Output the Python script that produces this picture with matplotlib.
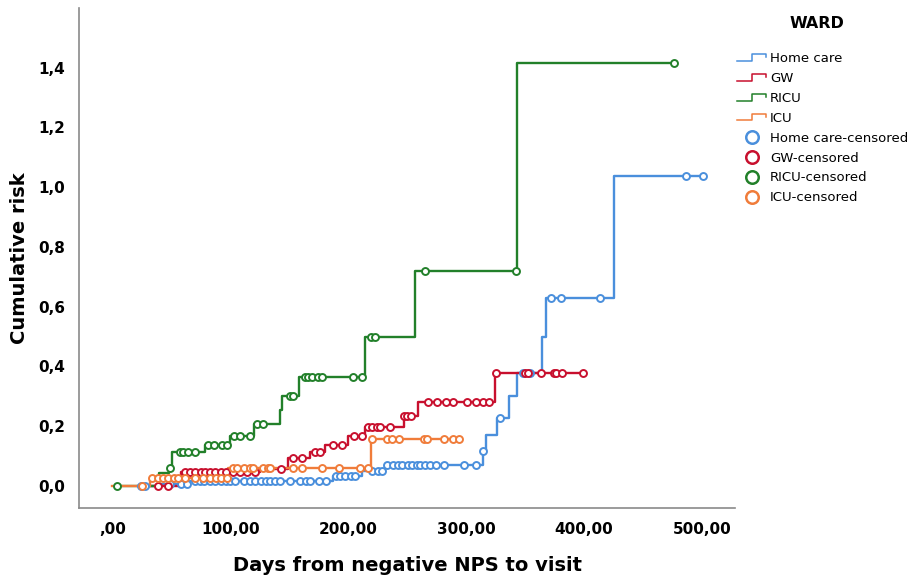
import numpy as np
import matplotlib
matplotlib.use("Agg")
import matplotlib.pyplot as plt
from matplotlib.lines import Line2D
from matplotlib.legend_handler import HandlerBase

# grupos (WARD)
groups = ["Home care", "GW", "RICU", "ICU"]
colors = ["#4a8fdc", "#c8102e", "#22802a", "#f07c3a"]

# Home care: tiempos de evento y riesgo acumulado (escalones)
home_t = [22, 41, 66, 187, 212, 231, 314, 317, 326, 336, 343, 364, 368, 425, 501]
home_r = [0.0, 0.007, 0.016, 0.034, 0.05, 0.069, 0.115, 0.17, 0.228, 0.30, 0.378, 0.497, 0.63, 1.036, 1.036]
home_cens = [24, 28, 49, 58, 63, 70, 74, 78, 83, 87, 92, 96, 100, 104, 112, 117, 121, 126,
             130, 134, 138, 142, 151, 159, 164, 168, 175, 181, 190, 193, 197, 202, 206,
             220, 225, 229, 233, 238, 242, 246, 251, 254, 258, 261, 265, 269, 274, 281,
             298, 308, 314, 329, 348, 354, 372, 380, 413, 486, 501]

# GW
gw_t = [30, 58, 125, 149, 168, 180, 200, 214, 247, 259, 324, 399]
gw_r = [0.0, 0.045, 0.057, 0.092, 0.114, 0.135, 0.165, 0.197, 0.234, 0.281, 0.378, 0.378]
gw_cens = [39, 47, 62, 66, 70, 75, 79, 83, 87, 92, 96, 102, 108, 114, 121, 143,
           153, 161, 172, 176, 187, 195, 205, 212, 217, 220, 224, 227, 235, 247, 250, 253,
           268, 275, 283, 289, 301, 308, 314, 319, 325, 350, 352, 363, 374, 376, 381, 399]

# RICU
ricu_t = [4, 40, 48, 51, 79, 100, 120, 142, 144, 158, 214, 257, 343, 476]
ricu_r = [0.0, 0.043, 0.06, 0.112, 0.135, 0.166, 0.205, 0.254, 0.30, 0.365, 0.499, 0.72, 1.415, 1.415]
ricu_cens = [4, 49, 57, 60, 64, 70, 81, 86, 93, 97, 103, 108, 117, 123, 128, 151, 153,
             163, 166, 169, 174, 178, 204, 212, 219, 223, 265, 342, 476]

# ICU
icu_t = [0, 32, 98, 219, 294]
icu_r = [0.0, 0.027, 0.06, 0.157, 0.157]
icu_cens = [25, 34, 39, 43, 47, 52, 56, 62, 70, 77, 83, 88, 92, 97, 102, 106, 112, 117,
            119, 128, 132, 134, 153, 161, 178, 192, 210, 217, 220, 233, 237, 243, 264,
            267, 281, 289, 294]

times = [home_t, gw_t, ricu_t, icu_t]
risks = [home_r, gw_r, ricu_r, icu_r]
cens = [home_cens, gw_cens, ricu_cens, icu_cens]

x_ticks = [0, 100, 200, 300, 400, 500]
x_labels = [",00", "100,00", "200,00", "300,00", "400,00", "500,00"]
y_ticks = [0.0, 0.2, 0.4, 0.6, 0.8, 1.0, 1.2, 1.4]
y_labels = ["0,0", "0,2", "0,4", "0,6", "0,8", "1,0", "1,2", "1,4"]


def risk_at(t_list, r_list, t):
    # valor del escalon en el tiempo t
    idx = np.searchsorted(t_list, t, side="right") - 1
    idx = max(idx, 0)
    return r_list[idx]


class StepHandler(HandlerBase):
    def create_artists(self, legend, orig_handle, xdescent, ydescent, width, height, fontsize, trans):
        xs = np.array([0.0, 0.5, 0.5, 1.0, 1.0]) * width - xdescent
        ys = np.array([0.15, 0.15, 0.85, 0.85, 0.55]) * height - ydescent
        ln = Line2D(xs, ys, color=orig_handle.get_color(), lw=1.1)
        ln.set_transform(trans)
        return [ln]


fig = plt.figure(figsize=(9.11, 5.77), dpi=100)
ax = fig.add_axes([0.087, 0.12, 0.72, 0.866])

for i in range(4):
    ax.step(times[i], risks[i], where="post", color=colors[i], lw=1.7, zorder=2 + i)
for i in range(4):
    cy = [risk_at(times[i], risks[i], t) for t in cens[i]]
    ax.plot(cens[i], cy, ls="none", marker="o", ms=5, mfc="white", mec=colors[i],
            mew=1.4, zorder=6 + i)

ax.set_xlim(-28, 528)
ax.set_ylim(-0.074, 1.60)
ax.set_xticks(x_ticks)
ax.set_xticklabels(x_labels)
ax.set_yticks(y_ticks)
ax.set_yticklabels(y_labels)
ax.tick_params(length=0, pad=10, labelsize=11)
for lab in ax.get_xticklabels() + ax.get_yticklabels():
    lab.set_fontweight("bold")
for s in ["top", "right"]:
    ax.spines[s].set_visible(False)
for s in ["left", "bottom"]:
    ax.spines[s].set_color("#8a8a8a")
    ax.spines[s].set_linewidth(1.2)

ax.set_xlabel("Days from negative NPS to visit", fontsize=14, fontweight="bold", labelpad=14)
ax.set_ylabel("Cumulative risk", fontsize=14, fontweight="bold", labelpad=7)

# leyenda
fig.text(817 / 911, 1 - 23 / 577, "WARD", ha="center", va="center",
         fontsize=11.5, fontweight="bold")
handles = [Line2D([], [], color=c) for c in colors]
handles += [Line2D([], [], ls="none", marker="o", ms=9, mfc="white", mec=c, mew=1.8) for c in colors]
labels = groups + [g + "-censored" for g in groups]
hmap = {h: StepHandler() for h in handles[:4]}
leg = fig.legend(handles, labels, handler_map=hmap, loc="upper left",
                 bbox_to_anchor=(0.796, 0.930), frameon=False,
                 fontsize=9.5, handlelength=2.2, handletextpad=0.3, labelspacing=0.52)

fig.savefig("out.png", dpi=100)
